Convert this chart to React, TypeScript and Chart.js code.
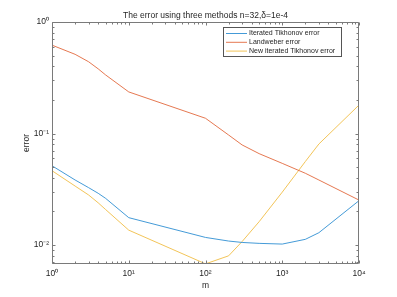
import React, { useEffect, useRef } from 'react';
import { Chart, registerables } from 'chart.js';

Chart.register(...registerables);

const mValues = [1, 2, 3, 4, 5, 10, 100, 200, 300, 500, 1000, 2000, 3000, 10000];
const iteratedTikhonov = [0.0514, 0.0383, 0.0327, 0.0291, 0.0262, 0.0176, 0.0117, 0.01086, 0.01055, 0.01035, 0.0102, 0.01125, 0.0129, 0.025];
const landweber = [0.62, 0.513, 0.44, 0.38, 0.335, 0.236, 0.137, 0.097, 0.079, 0.066, 0.054, 0.044, 0.0383, 0.0253];
const newIteratedTikhonov = [0.0464, 0.0338, 0.0281, 0.0239, 0.0208, 0.0136, 0.00678, 0.008, 0.01075, 0.0162, 0.0298, 0.0561, 0.0805, 0.18];

const seriesLabels = ['Iterated Tikhonov error', 'Landweber error', 'New iterated Tikhonov error'];
const seriesColors = ['#2f8fd2', '#e2693d', '#f0bd45'];

const xTickValues = [
  1, 2, 3, 4, 5, 6, 7, 8, 9,
  10, 20, 30, 40, 50, 60, 70, 80, 90,
  100, 200, 300, 400, 500, 600, 700, 800, 900,
  1000, 2000, 3000, 4000, 5000, 6000, 7000, 8000, 9000,
  10000,
];
const yTickValues = [
  0.007, 0.008, 0.009,
  0.01, 0.02, 0.03, 0.04, 0.05, 0.06, 0.07, 0.08, 0.09,
  0.1, 0.2, 0.3, 0.4, 0.5, 0.6, 0.7, 0.8, 0.9,
  1,
];

const titleText = 'The error using three methods n=32,\u03b4=1e-4';
const xLabel = 'm';
const yLabel = 'error';

const SUP: Record<string, string> = {
  '0': '\u2070', '1': '\u00b9', '2': '\u00b2', '3': '\u00b3', '4': '\u2074',
  '5': '\u2075', '6': '\u2076', '7': '\u2077', '8': '\u2078', '9': '\u2079', '-': '\u207b',
};

function isDecade(v: number) {
  const e = Math.log10(v);
  return Math.abs(e - Math.round(e)) < 1e-9;
}
function decadeLabel(v: number) {
  if (!isDecade(v)) return '';
  const e = String(Math.round(Math.log10(v)));
  return '10' + e.split('').map((c) => SUP[c] || c).join('');
}

const FONT = '"Liberation Sans", Arial, Helvetica, sans-serif';
const AXIS_COLOR = '#7a7a7a';
const TEXT_COLOR = '#262626';

const framePlugin = {
  id: 'frame',
  afterDatasetsDraw(chart: any) {
    const { ctx, chartArea, scales } = chart;
    const { left, right, top, bottom } = chartArea;
    ctx.save();
    ctx.strokeStyle = AXIS_COLOR;
    ctx.lineWidth = 1;
    const L = Math.round(left) + 0.5;
    const R = Math.round(right) - 0.5;
    const T = Math.round(top) + 0.5;
    const B = Math.round(bottom) - 0.5;
    ctx.beginPath();
    ctx.rect(L, T, R - L, B - T);
    ctx.stroke();
    ctx.beginPath();
    for (const t of scales.x.ticks) {
      const px = Math.round(scales.x.getPixelForValue(t.value)) + 0.5;
      const len = isDecade(t.value) ? 3 : 2;
      ctx.moveTo(px, B);
      ctx.lineTo(px, B - len);
      ctx.moveTo(px, T);
      ctx.lineTo(px, T + len);
    }
    for (const t of scales.y.ticks) {
      const py = Math.round(scales.y.getPixelForValue(t.value)) + 0.5;
      const len = isDecade(t.value) ? 3 : 2;
      ctx.moveTo(L, py);
      ctx.lineTo(L + len, py);
      ctx.moveTo(R, py);
      ctx.lineTo(R - len, py);
    }
    ctx.stroke();

    // legend inside the axes, top-right
    const bx = 223.5, by = 27.5, bw = 118, bh = 29;
    ctx.fillStyle = '#ffffff';
    ctx.fillRect(bx, by, bw, bh);
    ctx.strokeStyle = '#555555';
    ctx.strokeRect(bx, by, bw, bh);
    ctx.font = `7px ${FONT}`;
    ctx.textBaseline = 'middle';
    ctx.textAlign = 'left';
    chart.data.datasets.forEach((ds: any, i: number) => {
      const y = 33.5 + i * 8.8;
      ctx.strokeStyle = ds.borderColor;
      ctx.lineWidth = 0.9;
      ctx.beginPath();
      ctx.moveTo(226, y);
      ctx.lineTo(247, y);
      ctx.stroke();
      ctx.fillStyle = TEXT_COLOR;
      ctx.fillText(ds.label, 249, y);
    });
    ctx.restore();
  },
};

export default function App() {
  const canvasRef = useRef<HTMLCanvasElement | null>(null);

  useEffect(() => {
    document.body.style.margin = '0';
    const canvas = canvasRef.current;
    if (!canvas) return;
    const series = [iteratedTikhonov, landweber, newIteratedTikhonov];
    const chart = new Chart(canvas, {
      type: 'line',
      data: {
        datasets: series.map((vals, i) => ({
          label: seriesLabels[i],
          data: mValues.map((m, j) => ({ x: m, y: vals[j] })),
          borderColor: seriesColors[i],
          backgroundColor: seriesColors[i],
          borderWidth: 0.9,
          pointRadius: 0,
          tension: 0,
          fill: false,
        })),
      },
      options: {
        responsive: false,
        animation: false,
        devicePixelRatio: 1,
        layout: { padding: { top: 0, right: 38, bottom: 0, left: 0 } },
        plugins: {
          legend: { display: false },
          tooltip: { enabled: false },
          title: {
            display: true,
            text: titleText,
            fullSize: false,
            color: TEXT_COLOR,
            font: { family: FONT, size: 8.5, weight: 'normal', lineHeight: 1.2 },
            padding: { top: 11, bottom: 0.8 },
          },
        },
        scales: {
          x: {
            type: 'logarithmic',
            min: 1,
            max: 10000,
            afterBuildTicks: (scale: any) => {
              scale.ticks = xTickValues.map((v) => ({ value: v }));
            },
            afterFit: (scale: any) => {
              scale.height = 33;
            },
            grid: { display: false, drawTicks: false },
            border: { display: false },
            ticks: {
              autoSkip: false,
              maxRotation: 0,
              padding: 5,
              color: TEXT_COLOR,
              font: { family: FONT, size: 8.5 },
              callback: (v: any) => decadeLabel(Number(v)),
            },
            title: {
              display: true,
              text: xLabel,
              color: TEXT_COLOR,
              font: { family: FONT, size: 8.5 },
              padding: { top: 0, bottom: 6 },
            },
          },
          y: {
            type: 'logarithmic',
            min: 0.00676,
            max: 1,
            afterBuildTicks: (scale: any) => {
              scale.ticks = yTickValues.map((v) => ({ value: v }));
            },
            afterFit: (scale: any) => {
              scale.width = 52;
            },
            grid: { display: false, drawTicks: false },
            border: { display: false },
            ticks: {
              autoSkip: false,
              padding: 3,
              color: TEXT_COLOR,
              font: { family: FONT, size: 8.5 },
              callback: (v: any) => decadeLabel(Number(v)),
            },
            title: {
              display: true,
              text: yLabel,
              color: TEXT_COLOR,
              font: { family: FONT, size: 8.5 },
              padding: { top: 22, bottom: 0 },
            },
          },
        },
      },
      plugins: [framePlugin],
    } as any);
    return () => chart.destroy();
  }, []);

  return (
    <div style={{ position: 'absolute', left: 0, top: 0, width: 397, height: 297, background: '#ffffff' }}>
      <canvas ref={canvasRef} width={397} height={297} style={{ display: 'block', width: 397, height: 297 }} />
    </div>
  );
}
